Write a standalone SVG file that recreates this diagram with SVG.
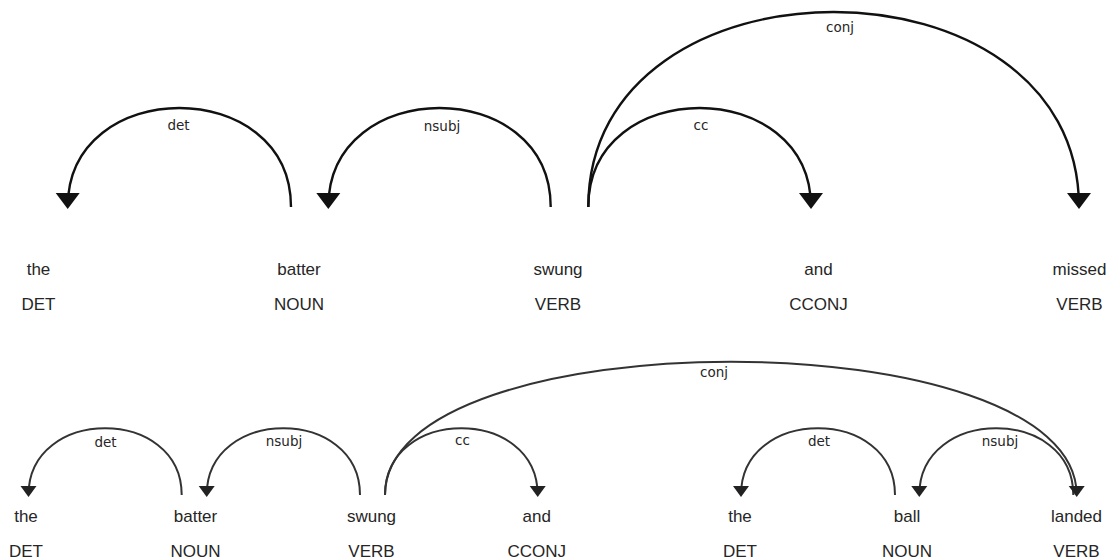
<svg xmlns="http://www.w3.org/2000/svg" width="1111" height="559" viewBox="0 0 1111 559">
  <style>
    .word { font-family: "Liberation Sans", Arial, sans-serif; font-size: 17px; fill: #262626; text-anchor: middle; }
    .label { font-family: "DejaVu Sans", Verdana, sans-serif; font-size: 13.5px; fill: #262626; text-anchor: middle; }
    .arc-lg { fill: none; stroke: #111; stroke-width: 2.4; }
    .arc-sm { fill: none; stroke: #333; stroke-width: 2; }
    .head-lg { fill: #111; }
    .head-sm { fill: #222; }
  </style>
  <rect width="1111" height="559" fill="#fff"/>

  <!-- Sentence 1: the batter swung and missed -->
  <g id="s1-tokens">
    <g id="s1-w0"><text class="word" x="38.5" y="275">the</text><text class="word" x="38.5" y="310">DET</text></g>
    <g id="s1-w1"><text class="word" x="299" y="275">batter</text><text class="word" x="299" y="310">NOUN</text></g>
    <g id="s1-w2"><text class="word" x="558" y="275">swung</text><text class="word" x="558" y="310">VERB</text></g>
    <g id="s1-w3"><text class="word" x="818.5" y="275">and</text><text class="word" x="818.5" y="310">CCONJ</text></g>
    <g id="s1-w4"><text class="word" x="1079.5" y="275">missed</text><text class="word" x="1079.5" y="310">VERB</text></g>
  </g>

  <g id="s1-arcs">
    <g id="s1-det">
      <path class="arc-lg" d="M67.7,207 C67.7,75 291,75 291,207"/>
      <path class="head-lg" d="M67.7,209 L55.7,193 79.7,193 Z"/>
      <text class="label" x="178.5" y="130">det</text>
    </g>
    <g id="s1-nsubj">
      <path class="arc-lg" d="M328.3,207 C328.3,75 550.7,75 550.7,207"/>
      <path class="head-lg" d="M328.3,209 L316.3,193 340.3,193 Z"/>
      <text class="label" x="442" y="131">nsubj</text>
    </g>
    <g id="s1-cc">
      <path class="arc-lg" d="M588.3,207 C588.3,75 811,75 811,207"/>
      <path class="head-lg" d="M811,209 L799,193 823,193 Z"/>
      <text class="label" x="701" y="130">cc</text>
    </g>
    <g id="s1-conj">
      <path class="arc-lg" d="M588.3,207 C588.3,-53 1079,-53 1079,207"/>
      <path class="head-lg" d="M1079,209 L1067,193 1091,193 Z"/>
      <text class="label" x="840" y="31.5">conj</text>
    </g>
  </g>

  <!-- Sentence 2: the batter swung and the ball landed -->
  <g id="s2-tokens">
    <g id="s2-w0"><text class="word" x="26" y="522">the</text><text class="word" x="26" y="557">DET</text></g>
    <g id="s2-w1"><text class="word" x="195.5" y="522">batter</text><text class="word" x="195.5" y="557">NOUN</text></g>
    <g id="s2-w2"><text class="word" x="371.5" y="522">swung</text><text class="word" x="371.5" y="557">VERB</text></g>
    <g id="s2-w3"><text class="word" x="536.7" y="522">and</text><text class="word" x="536.7" y="557">CCONJ</text></g>
    <g id="s2-w4"><text class="word" x="740" y="522">the</text><text class="word" x="740" y="557">DET</text></g>
    <g id="s2-w5"><text class="word" x="907" y="522">ball</text><text class="word" x="907" y="557">NOUN</text></g>
    <g id="s2-w6"><text class="word" x="1076.5" y="522">landed</text><text class="word" x="1076.5" y="557">VERB</text></g>
  </g>

  <g id="s2-arcs">
    <g id="s2-det1">
      <path class="arc-sm" d="M28.5,495 C28.5,406 181.7,406 181.7,495"/>
      <path class="head-sm" d="M28.5,497 L20.5,486 36.5,486 Z"/>
      <text class="label" x="105.5" y="446.5">det</text>
    </g>
    <g id="s2-nsubj1">
      <path class="arc-sm" d="M206.7,495 C206.7,406 360,406 360,495"/>
      <path class="head-sm" d="M206.7,497 L198.7,486 214.7,486 Z"/>
      <text class="label" x="284" y="446">nsubj</text>
    </g>
    <g id="s2-cc">
      <path class="arc-sm" d="M385,495 C385,406 537.7,406 537.7,495"/>
      <path class="head-sm" d="M537.7,497 L529.7,486 545.7,486 Z"/>
      <text class="label" x="462.5" y="445">cc</text>
    </g>
    <g id="s2-det2">
      <path class="arc-sm" d="M741,495 C741,406 895,406 895,495"/>
      <path class="head-sm" d="M741,497 L733,486 749,486 Z"/>
      <text class="label" x="819" y="446">det</text>
    </g>
    <g id="s2-nsubj2">
      <path class="arc-sm" d="M919.3,495 C919.3,406 1073.3,406 1073.3,495"/>
      <path class="head-sm" d="M919.3,497 L911.3,486 927.3,486 Z"/>
      <text class="label" x="1000" y="446">nsubj</text>
    </g>
    <g id="s2-conj">
      <path class="arc-sm" d="M385,495 C385,317.3 1076.7,317.3 1076.7,495"/>
      <path class="head-sm" d="M1076.7,497 L1068.7,486 1084.7,486 Z"/>
      <text class="label" x="714" y="377">conj</text>
    </g>
  </g>
</svg>
